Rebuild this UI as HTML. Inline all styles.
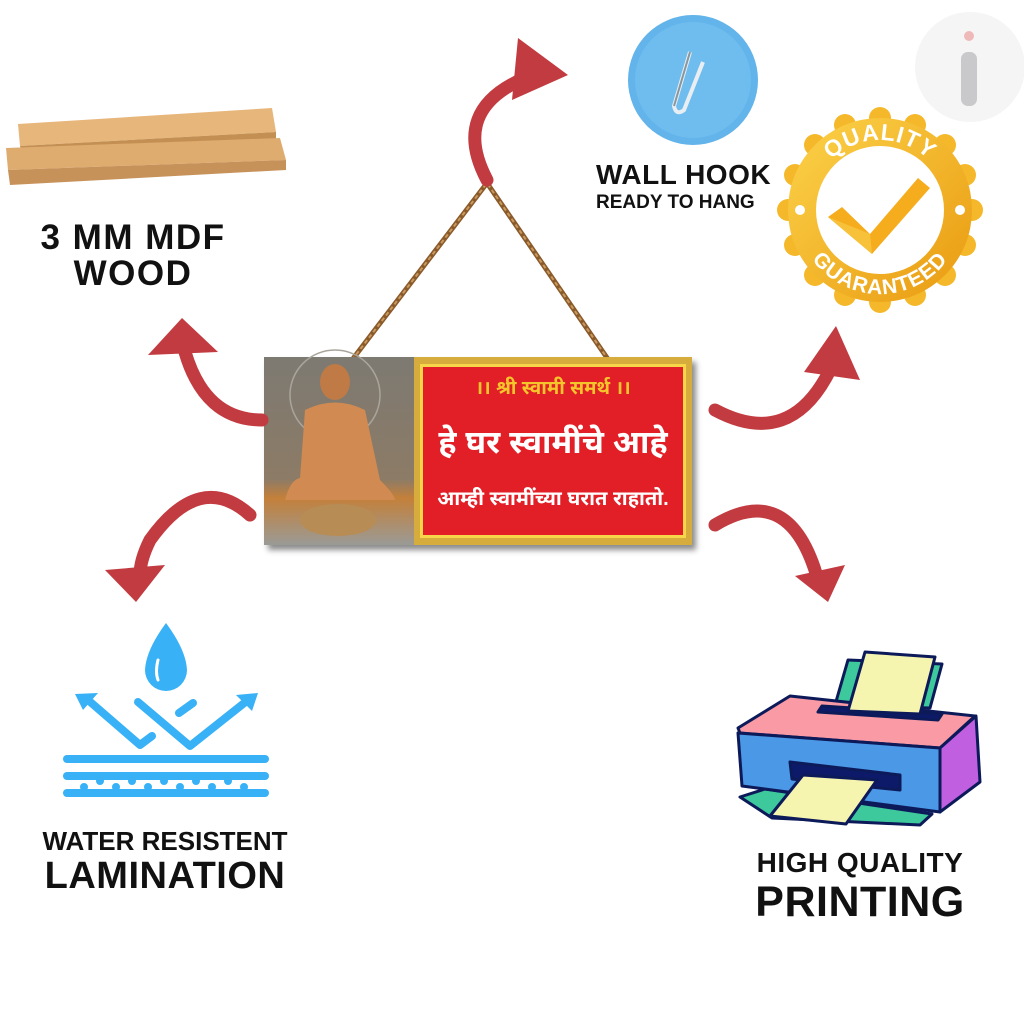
<!DOCTYPE html>
<html><head><meta charset="utf-8"><style>
html,body{margin:0;padding:0;background:#fff;}
body{width:1024px;height:1024px;position:relative;overflow:hidden;font-family:"Liberation Sans",sans-serif;}
svg{position:absolute;left:0;top:0;}
</style></head><body>
<svg width="1024" height="1024" viewBox="0 0 1024 1024" xmlns="http://www.w3.org/2000/svg">
<defs>
<linearGradient id="gold" x1="0" y1="0" x2="1" y2="1"><stop offset="0" stop-color="#fcd34a"/><stop offset="1" stop-color="#e99a10"/></linearGradient>
<linearGradient id="photo" x1="0" y1="0" x2="0" y2="1"><stop offset="0" stop-color="#7d7a72"/><stop offset="0.65" stop-color="#8c7b66"/><stop offset="0.75" stop-color="#c4803a"/><stop offset="1" stop-color="#9a9a96"/></linearGradient>
<filter id="sh" x="-10%" y="-10%" width="130%" height="140%"><feDropShadow dx="4" dy="5" stdDeviation="3" flood-color="#000" flood-opacity="0.45"/></filter>
</defs>

<!-- i logo -->
<circle cx="970" cy="67" r="55" fill="#f5f5f5"/>
<rect x="961" y="52" width="16" height="54" rx="7" fill="#c9c9cc"/>
<circle cx="969" cy="36" r="5" fill="#f0b9b9"/>

<!-- wood -->
<polygon points="18,124 272,108 276,132 20,146" fill="#e6b67a"/>
<polygon points="20,146 276,132 276,142 22,152" fill="#c48f52"/>
<polygon points="6,148 280,138 286,160 8,170" fill="#deac6f"/>
<polygon points="8,170 286,160 286,170 10,185" fill="#c7915a"/>
<text x="133" y="249" font-size="35" font-weight="bold" text-anchor="middle" fill="#111" letter-spacing="1.5">3 MM MDF</text>
<text x="133" y="285" font-size="35" font-weight="bold" text-anchor="middle" fill="#111" letter-spacing="1.5">WOOD</text>

<!-- hook -->
<circle cx="693" cy="80" r="65" fill="#62b4ea"/>
<circle cx="693" cy="80" r="58" fill="#6fbdef"/>
<path d="M690 52 L674 106 Q676 116 684 110 L703 62" fill="none" stroke="#e8eef2" stroke-width="4"/>
<path d="M690 52 L674 106" stroke="#8896a0" stroke-width="2" fill="none"/>
<text x="596" y="184" font-size="28" font-weight="bold" fill="#111" letter-spacing="0.5">WALL HOOK</text>
<text x="596" y="208" font-size="19" font-weight="bold" fill="#111">READY TO HANG</text>

<!-- badge -->
<g transform="translate(880,210)">
<g fill="#f5b82a">
<circle cx="0" cy="-92" r="11"/><circle cx="0" cy="92" r="11"/><circle cx="92" cy="0" r="11"/><circle cx="-92" cy="0" r="11"/>
<circle cx="65" cy="65" r="11"/><circle cx="-65" cy="65" r="11"/><circle cx="65" cy="-65" r="11"/><circle cx="-65" cy="-65" r="11"/>
<circle cx="35" cy="-85" r="11"/><circle cx="-35" cy="-85" r="11"/><circle cx="35" cy="85" r="11"/><circle cx="-35" cy="85" r="11"/>
<circle cx="85" cy="35" r="11"/><circle cx="-85" cy="35" r="11"/><circle cx="85" cy="-35" r="11"/><circle cx="-85" cy="-35" r="11"/>
</g>
<circle r="92" fill="url(#gold)"/>
<circle r="64" fill="#fff"/>
<circle cx="-80" cy="0" r="5" fill="#fff"/><circle cx="80" cy="0" r="5" fill="#fff"/>
<path id="tp" d="M-70 0 A70 70 0 0 1 70 0" fill="none"/>
<path id="bp" d="M-84 0 A84 84 0 0 0 84 0" fill="none"/>
<text font-size="23" font-weight="bold" fill="#fff" letter-spacing="1"><textPath href="#tp" startOffset="50%" text-anchor="middle">QUALITY</textPath></text>
<text font-size="21" font-weight="bold" fill="#fff" letter-spacing="1"><textPath href="#bp" startOffset="50%" text-anchor="middle">GUARANTEED</textPath></text>
<polygon points="-52,7 -38,-3 -10,24 38,-32 50,-22 -8,44" fill="#f5ad1e"/>
<polygon points="-52,7 -10,24 -8,44" fill="#f7c23a"/>
</g>

<!-- ropes -->
<path d="M352 360 L487 183 L614 368" fill="none" stroke="#8a5a2b" stroke-width="5"/>
<path d="M352 360 L487 183 L614 368" fill="none" stroke="#c99a5e" stroke-width="2" stroke-dasharray="4 3"/>

<!-- sign -->
<g filter="url(#sh)">
<rect x="264" y="357" width="428" height="188" fill="#c9a13a"/>
</g>
<rect x="264" y="357" width="150" height="188" fill="url(#photo)"/>
<circle cx="335" cy="395" r="45" fill="none" stroke="#a9a59c" stroke-width="1.5"/>
<ellipse cx="335" cy="382" rx="15" ry="18" fill="#c07a45"/>
<path d="M305 410 Q335 395 365 410 L380 480 Q395 495 395 500 L285 500 Q290 480 300 478 Z" fill="#d08a52"/>
<ellipse cx="338" cy="520" rx="38" ry="16" fill="#b78c55"/>
<rect x="414" y="357" width="278" height="188" fill="#d6ac3c"/>
<rect x="420" y="364" width="266" height="174" fill="#f7d64a"/>
<rect x="423" y="367" width="260" height="168" fill="#e21f26"/>
<text x="553" y="394" font-size="19" font-weight="bold" fill="#f5c52c" text-anchor="middle" font-family="'Liberation Sans','Noto Sans Devanagari','DejaVu Sans',sans-serif">।। श्री स्वामी समर्थ ।।</text>
<text x="553" y="453" font-size="32" font-weight="bold" fill="#fff" text-anchor="middle" font-family="'Liberation Sans','Noto Sans Devanagari','DejaVu Sans',sans-serif">हे घर स्वामींचे आहे</text>
<text x="553" y="505" font-size="20" font-weight="bold" fill="#fff" text-anchor="middle" font-family="'Liberation Sans','Noto Sans Devanagari','DejaVu Sans',sans-serif">आम्ही स्वामींच्या घरात राहातो.</text>

<!-- arrows -->
<g fill="none" stroke="#c23b40" stroke-width="13" stroke-linecap="round">
<path d="M487 180 Q450 110 525 78"/>
<path d="M262 420 Q205 420 185 352"/>
<path d="M250 515 Q200 470 150 540 Q140 560 140 575"/>
<path d="M715 410 Q790 450 830 370"/>
<path d="M715 525 Q790 480 818 580"/>
</g>
<g fill="#c23b40">
<polygon points="518,38 568,75 512,100"/>
<polygon points="148,355 182,318 218,352"/>
<polygon points="105,570 136,602 165,565"/>
<polygon points="804,372 836,326 860,380"/>
<polygon points="795,576 828,602 845,565"/>
</g>

<!-- water icon -->
<g fill="none" stroke="#38b1f6" stroke-width="8" stroke-linecap="round" stroke-linejoin="round">
<path d="M88 700 L140 745 L152 736"/>
<path d="M138 702 L190 746 L248 700"/>
<path d="M179 713 L193 703"/>
<path d="M67 759 L265 759"/>
<path d="M67 776 L265 776"/>
<path d="M67 793 L265 793"/>
</g>
<polygon points="75,694 98,693 83,710" fill="#38b1f6"/>
<polygon points="258,693 236,695 252,711" fill="#38b1f6"/>
<path d="M166 623 Q146 650 145 670 A21 21 0 0 0 187 670 Q186 650 166 623 Z" fill="#38b1f6"/>
<path d="M158 660 Q155 672 158 680" stroke="#fff" stroke-width="3" fill="none" stroke-linecap="round"/>
<g fill="#38b1f6">
<circle cx="100" cy="781" r="4"/><circle cx="132" cy="781" r="4"/><circle cx="164" cy="781" r="4"/><circle cx="196" cy="781" r="4"/><circle cx="228" cy="781" r="4"/>
<circle cx="84" cy="787" r="4"/><circle cx="116" cy="787" r="4"/><circle cx="148" cy="787" r="4"/><circle cx="180" cy="787" r="4"/><circle cx="212" cy="787" r="4"/><circle cx="244" cy="787" r="4"/>
</g>
<text x="165" y="850" font-size="26" font-weight="bold" text-anchor="middle" fill="#111">WATER RESISTENT</text>
<text x="165" y="888" font-size="38" font-weight="bold" text-anchor="middle" fill="#111" letter-spacing="0.5">LAMINATION</text>

<!-- printer -->
<g stroke="#0d1a5a" stroke-width="3" stroke-linejoin="round">
<polygon points="835,705 848,660 942,664 930,708" fill="#3ec99c"/>
<polygon points="740,797 765,789 932,814 920,825 772,818" fill="#3ec99c"/>
<polygon points="738,728 790,696 975,716 940,748 740,733" fill="#f99aa4"/>
<polygon points="738,733 940,748 940,812 742,786" fill="#4a98e6"/>
<polygon points="940,748 976,716 980,782 940,812" fill="#c060e0"/>
<polygon points="822,706 942,714 938,720 818,712" fill="#0d1a6a"/>
<polygon points="865,652 935,657 920,714 848,711" fill="#f6f5b0"/>
<polygon points="790,762 900,775 900,790 792,779" fill="#0d1a6a"/>
<polygon points="803,775 877,780 846,824 770,816" fill="#f6f5b0"/>
</g>
<text x="860" y="872" font-size="28" font-weight="bold" text-anchor="middle" fill="#111" letter-spacing="0.5">HIGH QUALITY</text>
<text x="860" y="916" font-size="43" font-weight="bold" text-anchor="middle" fill="#111" letter-spacing="0.5">PRINTING</text>
</svg>
</body></html>
